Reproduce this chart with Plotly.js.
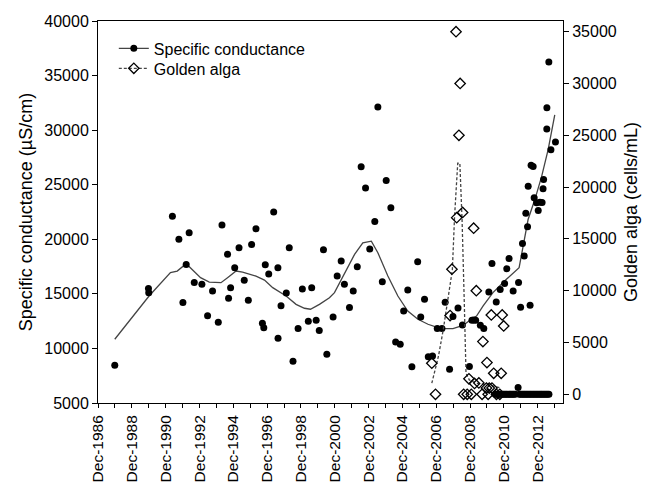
<!DOCTYPE html>
<html>
<head>
<meta charset="utf-8">
<script src="https://cdn.plot.ly/plotly-3.0.1.min.js"></script>
<style>html,body{margin:0;padding:0;background:#fff}#chart{width:651px;height:489px}</style>
</head>
<body>
<div id="chart"></div>
<script>
// Specific conductance samples (µS/cm)
var scDates = ["1987-11-28","1989-11-25","1989-12-01","1991-04-26","1991-09-13","1991-12-09","1992-02-18","1992-04-22","1992-08-10","1993-01-22","1993-05-25","1993-09-09","1994-01-11","1994-04-01","1994-07-30","1994-08-21","1994-10-04","1995-01-01","1995-04-04","1995-07-26","1995-10-22","1996-01-01","1996-04-04","1996-08-21","1996-09-20","1996-10-22","1997-01-05","1997-04-22","1997-07-22","1997-07-25","1997-09-27","1998-01-19","1998-03-24","1998-06-13","1998-10-01","1999-01-01","1999-05-10","1999-07-22","1999-10-26","2000-01-01","2000-04-01","2000-06-13","2000-10-26","2001-01-22","2001-04-19","2001-06-27","2001-10-15","2002-01-04","2002-04-01","2002-06-24","2002-09-27","2002-12-27","2003-04-15","2003-06-20","2003-09-24","2003-12-17","2004-03-27","2004-07-08","2004-10-15","2004-12-28","2005-03-27","2005-06-24","2005-10-27","2006-01-01","2006-03-24","2006-06-13","2006-09-13","2006-12-24","2007-04-04","2007-06-13","2007-09-16","2007-11-28","2008-03-16","2008-06-20","2008-11-17","2009-01-11","2009-02-20","2009-04-01","2009-07-12","2009-09-24","2010-01-11","2010-03-20","2010-06-20","2010-09-13","2010-12-17","2011-02-03","2011-03-24","2011-06-20","2011-10-15","2011-11-28","2012-01-08","2012-02-14","2012-03-20","2012-04-26","2012-05-10","2012-06-20","2012-07-12","2012-08-25","2012-09-16","2012-11-07","2012-12-13","2013-01-19","2013-03-06","2013-03-27","2013-04-08","2013-06-16","2013-06-18","2013-07-30","2013-09-13","2013-12-20"];
var scValues = [8450,15500,15100,22100,20000,14200,17700,20600,16050,15870,13000,15260,12400,21300,18640,14590,15570,17400,19225,16240,14410,19530,20960,12300,11900,17670,16810,22500,17400,10940,13920,15080,19225,8830,11820,15440,12490,15570,12580,11640,19040,9470,12880,16630,18000,15870,13740,15260,17490,26650,24710,19100,21630,32110,16120,25380,22880,10600,10390,13430,15350,8310,17950,12880,14500,9230,9300,11820,11820,14220,8100,12920,13700,12150,8350,12580,12600,12580,12130,11820,15170,17790,14250,15410,15960,17300,18250,15260,16030,13770,19620,18460,22390,21140,24850,13950,26780,26680,23800,23340,22640,23400,23370,24620,25470,30100,32050,36250,28210,28910];

// Smoothed specific conductance
var scFitDates = ["1987-11-28","1989-12-08","1991-03-15","1991-08-08","1992-02-18","1992-08-08","1992-12-24","1993-07-01","1994-03-10","1994-07-30","1995-01-30","1995-06-20","1995-11-15","1996-04-05","1996-10-05","1997-04-01","1998-01-15","1998-08-18","1999-02-15","1999-06-25","2000-01-05","2000-04-20","2000-08-08","2000-11-25","2001-06-27","2002-02-02","2002-07-30","2003-01-30","2003-06-20","2004-01-22","2004-08-25","2005-03-27","2005-11-01","2006-06-07","2007-01-08","2007-04-20","2007-11-28","2008-07-01","2009-01-01","2009-04-20","2009-09-10","2010-04-10","2011-01-25","2011-10-27","2012-01-22","2012-05-08","2012-10-01","2013-02-25","2013-07-15","2013-12-05"];
var scFitValues = [10840,14800,16940,17090,17760,17090,16480,16080,16025,16480,17090,17000,16785,16630,16265,15570,14800,14040,13680,13590,14040,14350,14650,15110,16785,18610,19680,19830,18770,16630,14800,13430,12670,12215,11910,11820,11820,12120,12670,12970,13890,15110,16330,17400,19370,21810,23640,25770,28210,31400];

// Golden alga samples (cells/mL)
var gaDates = ["2006-08-28","2006-11-16","2007-09-27","2007-11-06","2008-02-02","2008-02-17","2008-04-05","2008-05-01","2008-06-24","2008-07-16","2008-10-01","2008-12-28","2008-11-07","2009-03-08","2009-06-10","2009-02-17","2009-04-15","2009-08-18","2009-12-27","2009-09-05","2009-12-01","2009-11-20","2010-01-20","2010-03-20","2010-03-05","2010-04-26","2010-10-27","2010-11-28","2010-10-05","2010-06-24","2010-09-05"];
var gaValues = [3000,0,7600,12070,35000,17050,25000,30000,17550,0,0,0,1500,1050,1100,16030,10000,0,0,5085,3060,600,600,600,7660,2030,7660,6600,2030,0,0];

// Golden alga samples drawn as filled symbols
var gaFilledDates = ["2010-06-01","2010-07-01","2010-08-01","2010-09-01","2010-10-01","2010-11-01","2010-12-01","2011-01-01","2011-02-01","2011-03-01","2011-04-01","2011-05-01","2011-06-01","2011-07-01","2011-08-01","2011-10-05","2011-11-01","2011-12-01","2012-01-01","2012-02-01","2012-03-01","2012-04-01","2012-05-01","2012-06-01","2012-07-01","2012-08-01","2012-09-01","2012-10-01","2012-11-01","2012-12-01","2013-01-01","2013-02-01","2013-03-01","2013-04-01","2013-05-01","2013-06-01","2013-07-01","2013-08-01"];
var gaFilledValues = [0,0,0,0,0,0,0,0,0,0,0,0,0,0,0,650,0,0,0,0,0,0,0,0,0,0,0,0,0,0,0,0,0,0,0,0,0,0];

// Smoothed golden alga
var gaFitDates = ["2006-08-28","2007-01-20","2007-05-01","2007-11-15","2008-01-01","2008-03-10","2008-04-25","2008-06-12","2008-07-30","2008-09-05","2008-11-15","2009-04-10","2010-01-22","2010-10-01"];
var gaFitValues = [1070,3700,6200,12000,17100,22300,22300,16830,8790,2035,1390,1070,900,590];

var legendNames = ["Specific conductance","Golden alga"];
var yTitle = "Specific conductance (µS/cm)";
var y2Title = "Golden alga (cells/mL)";

var FONT = "Liberation Sans, Arial, sans-serif";
var lineCol = "#444";

var traces = [
  {x: scFitDates, y: scFitValues, type: "scatter", mode: "lines", line: {color: lineCol, width: 1.3}, showlegend: false, hoverinfo: "skip"},
  {x: gaFitDates, y: gaFitValues, type: "scatter", mode: "lines", yaxis: "y2", line: {color: lineCol, width: 1.3, dash: "3px,2px"}, showlegend: false, hoverinfo: "skip"},
  {x: scDates, y: scValues, type: "scatter", mode: "markers", marker: {symbol: "circle", size: 7, color: "#000"}, showlegend: false},
  {x: gaFilledDates, y: gaFilledValues, type: "scatter", mode: "markers", yaxis: "y2", marker: {symbol: "circle", size: 7, color: "#000"}, showlegend: false},
  {x: gaDates, y: gaValues, type: "scatter", mode: "markers", yaxis: "y2", marker: {symbol: "diamond-open", size: 8, color: "#000", line: {width: 1.3}}, showlegend: false},
  {x: [null], y: [null], type: "scatter", mode: "lines+markers", name: legendNames[0], legend: "legend", line: {color: lineCol, width: 1.3}, marker: {symbol: "circle", size: 7, color: "#000"}},
  {x: [null], y: [null], type: "scatter", mode: "lines+markers", name: legendNames[1], legend: "legend2", yaxis: "y2", line: {color: lineCol, width: 1.3, dash: "3px,2px"}, marker: {symbol: "diamond-open", size: 8, color: "#000", line: {width: 1.3}}}
];

var legFont = {family: FONT, size: 16, color: "#000"};
var layout = {
  width: 651, height: 489,
  margin: {l: 98, r: 88, t: 21, b: 86},
  paper_bgcolor: "#fff", plot_bgcolor: "#fff",
  font: {family: FONT, size: 16, color: "#000"},
  showlegend: true,
  legend: {x: 0.034, y: 0.9728, xanchor: "left", yanchor: "top", bgcolor: "rgba(0,0,0,0)", font: legFont, itemwidth: 30},
  legend2: {x: 0.034, y: 0.9204, xanchor: "left", yanchor: "top", bgcolor: "rgba(0,0,0,0)", font: legFont, itemwidth: 30},
  xaxis: {
    type: "date", range: ["1986-12-01", "2014-06-01"],
    tick0: "1986-12-01", dtick: "M24", tickformat: "%b-%Y", tickangle: -90,
    ticks: "outside", ticklen: 4, tickcolor: "#000", tickwidth: 1, ticklabelstandoff: 1,
    minor: {dtick: "M12", tick0: "1986-12-01", ticks: "outside", ticklen: 4, tickcolor: "#000", tickwidth: 1, showgrid: false},
    showline: true, linecolor: "#000", linewidth: 1, mirror: true,
    showgrid: false, zeroline: false,
    tickfont: {family: FONT, size: 15.5, color: "#000"}
  },
  yaxis: {
    range: [5000, 40000], dtick: 5000, tick0: 0, tickformat: "d",
    ticks: "outside", ticklen: 5, tickcolor: "#000",
    showline: true, linecolor: "#000", linewidth: 1,
    showgrid: false, zeroline: false,
    tickfont: {family: FONT, size: 16, color: "#000"},
    title: {text: yTitle, font: {family: FONT, size: 18, color: "#000"}, standoff: 6}
  },
  yaxis2: {
    overlaying: "y", side: "right",
    range: [-840, 36030], dtick: 5000, tick0: 0, tickformat: "d",
    ticks: "outside", ticklen: 5, tickcolor: "#000",
    showline: true, linecolor: "#000", linewidth: 1,
    showgrid: false, zeroline: false,
    tickfont: {family: FONT, size: 16, color: "#000"},
    title: {text: y2Title, font: {family: FONT, size: 18, color: "#000"}, standoff: 8}
  }
};

Plotly.newPlot("chart", traces, layout, {staticPlot: true, displayModeBar: false});
</script>
</body>
</html>
